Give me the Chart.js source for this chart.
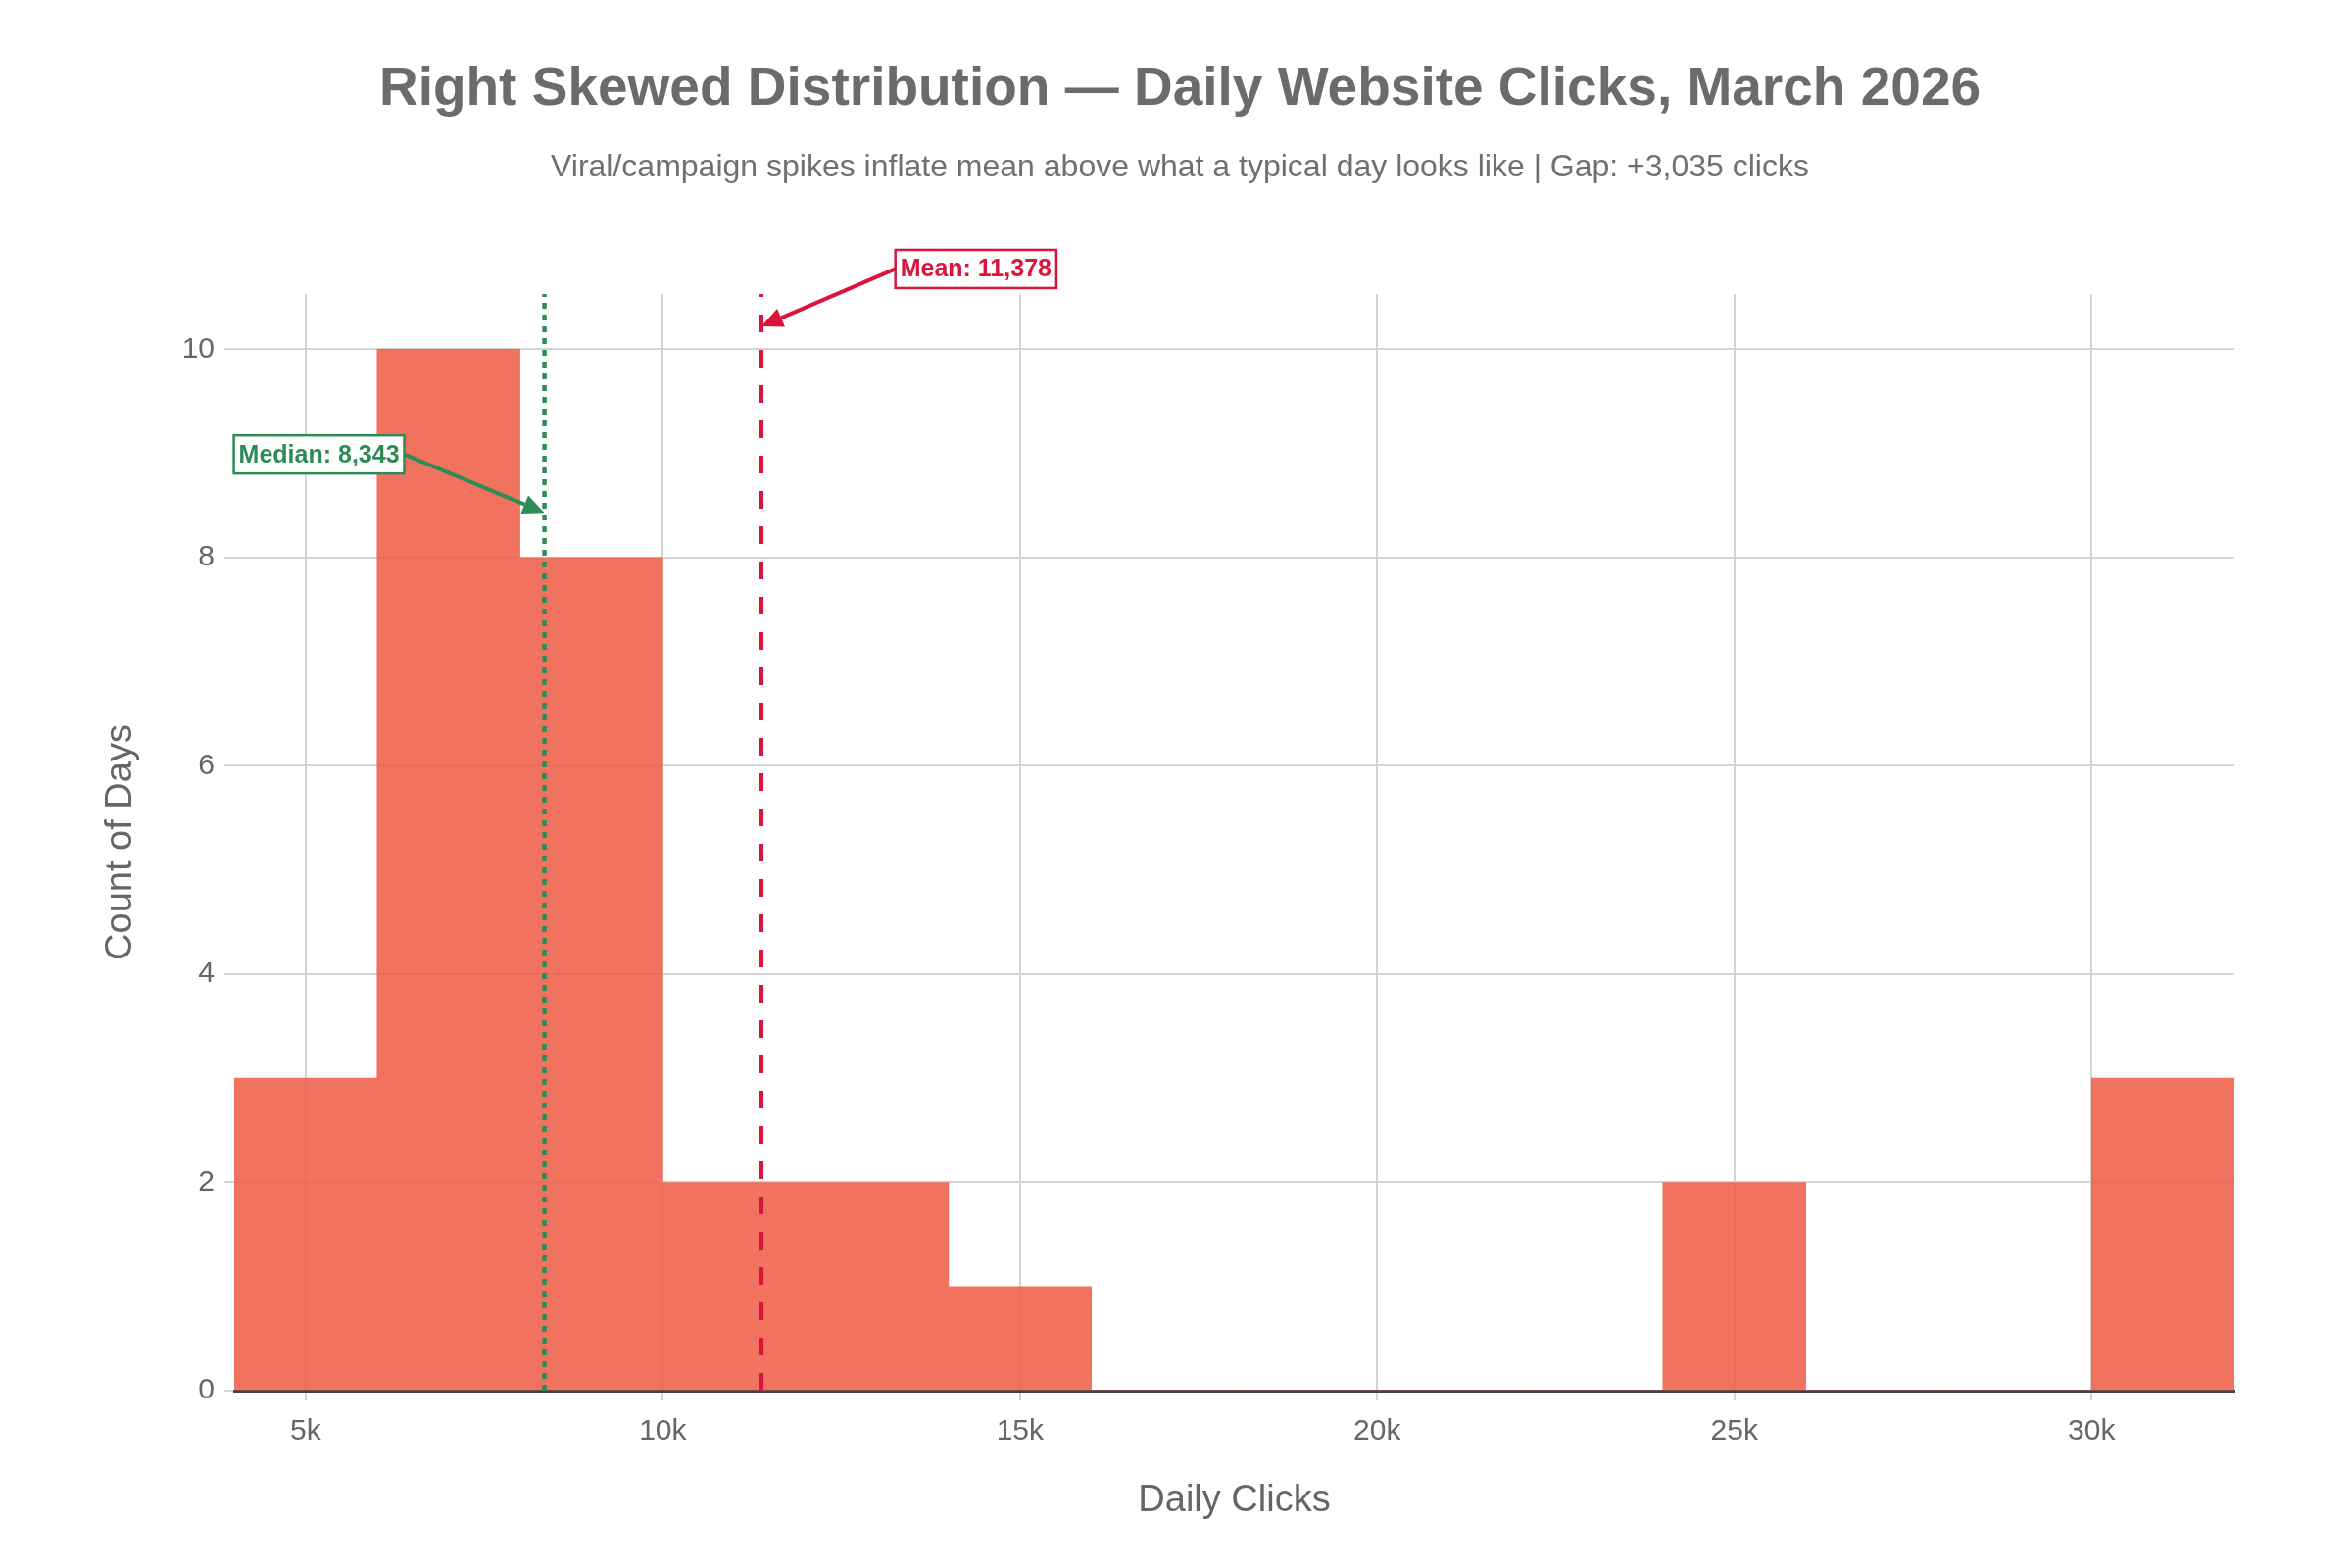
<!DOCTYPE html>
<html><head><meta charset="utf-8">
<script src="https://cdn.jsdelivr.net/npm/chart.js@4.4.1/dist/chart.umd.min.js"></script>
<style>html,body{margin:0;padding:0;background:#fff;} canvas{display:block;}</style>
</head><body>
<canvas id="c" width="2400" height="1600" style="width:2400px;height:1600px"></canvas>
<script>
// ---- data ----
const chartTitle = 'Right Skewed Distribution \u2014 Daily Website Clicks, March 2026';
const chartSubtitle = 'Viral/campaign spikes inflate mean above what a typical day looks like | Gap: +3,035 clicks';
const xAxisTitle = 'Daily Clicks';
const yAxisTitle = 'Count of Days';
const binStarts = [4000, 6000, 8000, 10000, 12000, 14000, 16000, 18000, 20000, 22000, 24000, 26000, 28000, 30000];
const binWidth = 2000;
const dayCounts = [3, 10, 8, 2, 2, 1, 0, 0, 0, 0, 2, 0, 0, 3];
const xTickValues = [5000, 10000, 15000, 20000, 25000, 30000];
const xTickLabels = ['5k', '10k', '15k', '20k', '25k', '30k'];
const yTickValues = [0, 2, 4, 6, 8, 10];
const yTickLabels = ['0', '2', '4', '6', '8', '10'];
const xRange = [4000, 32000];
const yRange = [0, 10.53];
const refNames = ['Mean', 'Median'];
const refValues = [11378, 8343];
const refArrowY = [10.22, 8.43];

// ---- styles ----
const FONT = '"Liberation Sans", Arial, Helvetica, sans-serif';
const BAR_COLOR = '#F1735F';
const refStyles = [
  {color: '#DC143C', dash: [18, 18], width: 4.5, boxDx: 219, boxDy: -58.5},
  {color: '#2E8B57', dash: [6, 6], width: 4.5, boxDx: -230, boxDy: -59.5}
];

const headerPlugin = {
  id: 'header',
  afterDraw(chart) {
    const ctx = chart.ctx;
    ctx.save();
    ctx.textAlign = 'center';
    ctx.textBaseline = 'alphabetic';
    ctx.fillStyle = '#6b6b6b';
    ctx.font = 'bold 55px ' + FONT;
    ctx.fillText(chartTitle, 1204, 107);
    ctx.fillStyle = '#707070';
    ctx.font = '32px ' + FONT;
    ctx.fillText(chartSubtitle, 1204, 180);
    ctx.restore();
  }
};

const refPlugin = {
  id: 'refLines',
  afterDatasetsDraw(chart) {
    const {ctx, chartArea, scales: {x, y}} = chart;
    // faint gridlines seen through the semi-transparent bars
    const bars = chart.getDatasetMeta(0).data;
    ctx.save();
    ctx.beginPath();
    bars.forEach(b => {
      const p = b.getProps(['x', 'y', 'base', 'width'], true);
      if (Math.abs(p.base - p.y) > 0.5) ctx.rect(p.x - p.width / 2, p.y, p.width, p.base - p.y);
    });
    ctx.clip();
    ctx.strokeStyle = 'rgba(0,0,0,0.04)';
    ctx.lineWidth = 2;
    ctx.beginPath();
    xTickValues.forEach(v => { const px = x.getPixelForValue(v); ctx.moveTo(px, chartArea.top); ctx.lineTo(px, chartArea.bottom); });
    yTickValues.forEach(v => { const py = y.getPixelForValue(v); ctx.moveTo(chartArea.left, py); ctx.lineTo(chartArea.right, py); });
    ctx.stroke();
    ctx.restore();

    refValues.forEach((v, i) => {
      const st = refStyles[i];
      const px = x.getPixelForValue(v);
      ctx.save();
      ctx.strokeStyle = st.color;
      ctx.lineWidth = st.width;
      ctx.setLineDash(st.dash);
      ctx.beginPath();
      ctx.moveTo(px, chartArea.bottom);
      ctx.lineTo(px, chartArea.top);
      ctx.stroke();
      ctx.restore();
    });
    refValues.forEach((v, i) => {
      const st = refStyles[i];
      const tipX = x.getPixelForValue(v);
      const tipY = y.getPixelForValue(refArrowY[i]);
      const label = refNames[i] + ': ' + v.toLocaleString('en-US');
      ctx.save();
      ctx.font = 'bold 25px ' + FONT;
      const tw = ctx.measureText(label).width;
      const bw = tw + 10, bh = 39;
      const cx = tipX + st.boxDx, cy = tipY + st.boxDy;
      const sx = st.boxDx > 0 ? cx - bw / 2 : cx + bw / 2;
      const sy = cy;
      const ang = Math.atan2(tipY - sy, tipX - sx);
      const headLen = 22, headW = 10;
      const bx = tipX - headLen * Math.cos(ang), by = tipY - headLen * Math.sin(ang);
      ctx.setLineDash([]);
      ctx.strokeStyle = st.color;
      ctx.fillStyle = st.color;
      ctx.lineWidth = 4;
      ctx.beginPath();
      ctx.moveTo(sx, sy);
      ctx.lineTo(bx, by);
      ctx.stroke();
      ctx.beginPath();
      ctx.moveTo(tipX, tipY);
      ctx.lineTo(bx + headW * Math.sin(ang), by - headW * Math.cos(ang));
      ctx.lineTo(bx - headW * Math.sin(ang), by + headW * Math.cos(ang));
      ctx.closePath();
      ctx.fill();
      ctx.fillStyle = '#ffffff';
      ctx.fillRect(cx - bw / 2, cy - bh / 2, bw, bh);
      ctx.lineWidth = 2.5;
      ctx.strokeRect(cx - bw / 2, cy - bh / 2, bw, bh);
      ctx.fillStyle = st.color;
      ctx.textAlign = 'center';
      ctx.textBaseline = 'middle';
      ctx.fillText(label, cx, cy + 1);
      ctx.restore();
    });
  }
};

const histData = binStarts.map((s, i) => ({x: s + binWidth / 2, y: dayCounts[i]}));

new Chart(document.getElementById('c'), {
  type: 'bar',
  data: {
    datasets: [{
      data: histData,
      backgroundColor: BAR_COLOR,
      borderWidth: 0,
      barPercentage: 1,
      categoryPercentage: 1
    }]
  },
  options: {
    responsive: false,
    devicePixelRatio: 1,
    animation: false,
    layout: {padding: {top: 300, right: 120, bottom: 0, left: 0}},
    plugins: {
      legend: {display: false},
      tooltip: {enabled: false},
      title: {display: false},
      subtitle: {display: false}
    },
    scales: {
      x: {
        type: 'linear', min: xRange[0], max: xRange[1], offset: false,
        afterBuildTicks: (ax) => { ax.ticks = xTickValues.map(v => ({value: v})); },
        afterFit: (ax) => { ax.height = 181; },
        ticks: {
          color: '#666', font: {family: FONT, size: 30}, padding: 14,
          maxRotation: 0, autoSkip: false,
          callback: (v, i) => xTickLabels[i]
        },
        grid: {color: '#d4d4d4', lineWidth: 2, tickLength: 10, drawTicks: true, offset: false},
        border: {display: true, color: '#444', width: 3},
        title: {
          display: true, text: xAxisTitle, color: '#666',
          font: {family: FONT, size: 38}, padding: {top: 0, bottom: 45.2}
        }
      },
      y: {
        type: 'linear', min: yRange[0], max: yRange[1],
        afterBuildTicks: (ax) => { ax.ticks = yTickValues.map(v => ({value: v})); },
        afterFit: (ax) => { ax.width = 239; },
        ticks: {
          color: '#666', font: {family: FONT, size: 30}, padding: 10,
          callback: (v, i) => yTickLabels[i]
        },
        grid: {color: '#d4d4d4', lineWidth: 2, tickLength: 10, drawTicks: true},
        border: {display: false},
        title: {
          display: true, text: yAxisTitle, color: '#666',
          font: {family: FONT, size: 38}, padding: {top: 100.6, bottom: 0}
        }
      }
    }
  },
  plugins: [refPlugin, headerPlugin]
});
</script>
</body></html>
